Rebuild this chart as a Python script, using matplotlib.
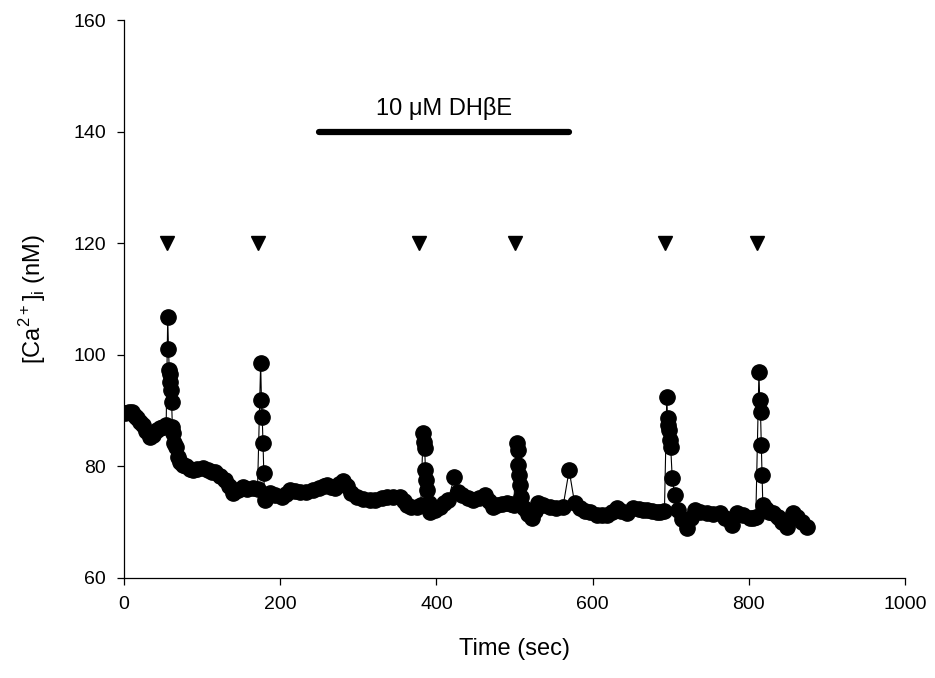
import matplotlib

matplotlib.use("Agg")
import matplotlib.pyplot as plt
import numpy as np

plt.rcParams["font.family"] = ["Liberation Sans", "DejaVu Sans"]

# [Ca2+]i trace (sec, nM)
time_sec = [
    1, 6, 10, 14, 17, 21, 24, 28, 33, 37, 42, 46, 50, 54,
    56, 57, 58, 58.5, 59, 60, 61, 62, 63,
    64, 66, 69, 72, 76, 80, 84, 88, 94, 101, 108, 113, 117, 123, 129, 134,
    140, 146, 152, 158, 165, 171,
    175, 176, 177, 178, 179, 180, 183,
    187, 194, 202, 207, 213, 219, 225, 233, 242, 250, 256, 260, 265, 270,
    275, 280, 285, 291, 298, 306, 315, 322, 330, 337, 345, 353, 358, 362,
    368, 375, 380,
    383, 384, 385, 386, 387, 388, 390, 392,
    398, 405, 410, 415, 423, 428, 433, 440, 447, 454, 462, 467, 472, 478,
    484, 490, 495, 499,
    503, 504, 505, 506, 507, 508, 512, 517, 522,
    526, 530, 537, 545, 553, 562, 570, 577, 584, 590, 597, 606, 612, 618,
    625, 631, 637, 644, 652, 659, 665, 670, 676, 682, 686, 692,
    695, 696, 697, 698, 699, 700, 702, 705, 709, 714, 721,
    726, 731, 738, 746, 754, 763, 770, 778, 785, 793, 801, 806, 809,
    813, 814, 815, 816, 817, 818, 822, 826,
    831, 838, 843, 849, 853, 857, 862, 868, 875,
]
ca_nm = [
    89.5, 89.8, 89.7, 89.0, 88.6, 88.0, 87.4, 86.3, 85.2, 85.6, 86.5, 86.8, 87.0, 87.4,
    106.7, 101.0, 97.2, 96.5, 95.1, 93.7, 91.5, 87.0, 86.0,
    84.2, 83.5, 81.7, 80.8, 80.2, 80.0, 79.5, 79.3, 79.5, 79.7, 79.4, 79.0, 79.0, 78.3, 77.5, 76.5,
    75.2, 75.8, 76.3, 76.0, 76.1, 76.0,
    98.5, 91.9, 88.8, 84.2, 78.8, 74.0, 74.8,
    75.2, 74.8, 74.5, 75.0, 75.8, 75.6, 75.4, 75.5, 75.8, 76.2, 76.5, 76.7, 76.3, 76.1,
    76.8, 77.4, 76.5, 75.2, 74.5, 74.2, 74.0, 74.0, 74.3, 74.5, 74.5, 74.5, 73.8, 73.1,
    72.8, 72.7, 73.0,
    86.0, 84.4, 83.3, 79.3, 77.5, 75.8, 73.5, 71.8,
    72.2, 72.7, 73.4, 74.0, 78.1, 75.5, 74.9, 74.3, 74.0, 74.3, 74.9, 73.8, 72.7, 73.0,
    73.2, 73.4, 73.2, 73.0,
    84.2, 82.9, 80.2, 78.4, 76.7, 74.5, 72.5, 71.5, 70.7,
    72.0, 73.4, 73.0, 72.7, 72.6, 72.7, 79.3, 73.4, 72.5, 72.0, 71.8, 71.3, 71.3, 71.3,
    71.8, 72.5, 72.0, 71.6, 72.5, 72.3, 72.2, 72.2, 72.0, 71.9, 71.8, 72.0,
    92.4, 88.6, 87.4, 86.5, 84.7, 83.5, 77.9, 74.9, 72.2, 70.5, 69.0,
    70.8, 72.2, 71.8, 71.6, 71.5, 71.6, 70.8, 69.5, 71.6, 71.2, 70.7, 70.8, 71.0,
    96.9, 91.9, 89.7, 83.8, 78.4, 73.1, 72.3, 71.8,
    71.6, 71.0, 70.0, 69.1, 70.5, 71.6, 71.0, 70.0, 69.1,
]

# nicotine application times (arrowheads) and DHbE perfusion
stim_times = [55, 172, 378, 501, 693, 810]
stim_level = 120
drug_start = 250
drug_end = 570
drug_level = 140
drug_label = "10 \u03bcM DH\u03b2E"


def main():
    fig = plt.figure(figsize=(9.35, 6.78), dpi=100)
    ax = fig.add_axes([0.1326, 0.1475, 0.8353, 0.823])

    ax.plot(time_sec, ca_nm, color="black", linewidth=0.8, marker="o",
            markersize=11, markerfacecolor="black", markeredgecolor="black")

    ax.plot(stim_times, [stim_level] * len(stim_times), linestyle="none",
            marker="v", markersize=10, color="black")

    ax.plot([drug_start, drug_end], [drug_level, drug_level], color="black",
            linewidth=4.5, solid_capstyle="round")
    ax.text((drug_start + drug_end) / 2, drug_level + 2.0, drug_label,
            ha="center", va="bottom", fontsize=17)

    ax.set_xlim(0, 1000)
    ax.set_ylim(60, 160)
    ax.set_xticks(np.arange(0, 1001, 200))
    ax.set_yticks(np.arange(60, 161, 20))
    for side in ["top", "right"]:
        ax.spines[side].set_visible(False)
    for side in ["left", "bottom"]:
        ax.spines[side].set_linewidth(0.9)
    ax.tick_params(direction="out", length=5, width=0.9, labelsize=14, pad=8)

    ax.set_xlabel("Time (sec)", fontsize=17, labelpad=18)
    ax.set_ylabel("[Ca$^{\\mathregular{2+}}$]$_\\mathregular{i}$ (nM)",
                  fontsize=17, labelpad=18)

    fig.savefig("out.png", dpi=100)
    plt.close(fig)


if __name__ == "__main__":
    main()
